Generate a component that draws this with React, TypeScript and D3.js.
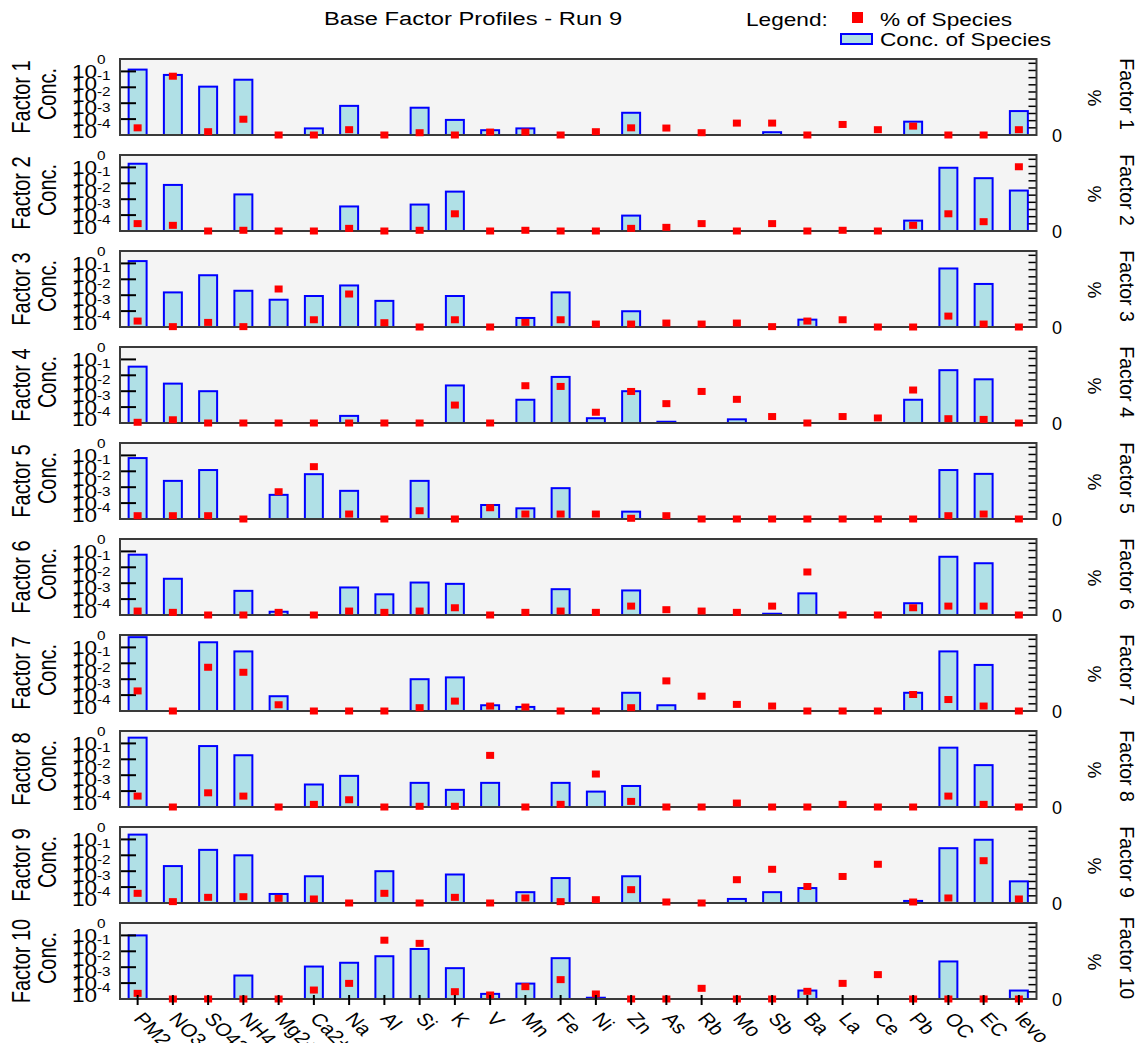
import React from 'react';
import * as d3 from 'd3';

const categories = ['PM2.5', 'NO3-', 'SO42-', 'NH4+', 'Mg2+', 'Ca2+', 'Na', 'Al', 'Si', 'K', 'V', 'Mn', 'Fe', 'Ni', 'Zn', 'As', 'Rb', 'Mo', 'Sb', 'Ba', 'La', 'Ce', 'Pb', 'OC', 'EC', 'levo'];
const factorNames = ['Factor 1', 'Factor 2', 'Factor 3', 'Factor 4', 'Factor 5', 'Factor 6', 'Factor 7', 'Factor 8', 'Factor 9', 'Factor 10'];

// Concentration of species (log axis, 0 = no bar)
const conc1 = [1.3e-1, 6.0e-2, 1.1e-2, 3.0e-2, 0, 2.6e-5, 6.8e-4, 0, 5.2e-4, 8.9e-5, 2.0e-5, 2.6e-5, 0, 0, 2.5e-4, 0, 0, 0, 1.5e-5, 0, 0, 0, 6.9e-5, 0, 0, 3.2e-4];
const conc2 = [1.7e-1, 7.9e-3, 0, 2.0e-3, 0, 0, 3.5e-4, 0, 4.6e-4, 3.0e-3, 0, 0, 0, 0, 9.3e-5, 0, 0, 0, 0, 0, 0, 0, 4.5e-5, 9.5e-2, 2.1e-2, 3.5e-3];
const conc3 = [1.4e-1, 1.5e-3, 1.8e-2, 1.9e-3, 5.2e-4, 8.9e-4, 4.1e-3, 4.4e-4, 0, 8.9e-4, 0, 3.7e-5, 1.5e-3, 0, 9.8e-5, 0, 0, 0, 0, 2.9e-5, 0, 0, 0, 4.8e-2, 5.1e-3, 0];
const conc4 = [3.5e-2, 3.0e-3, 1.0e-3, 0, 0, 0, 2.8e-5, 0, 0, 2.3e-3, 0, 2.9e-4, 7.9e-3, 2.0e-5, 1.0e-3, 1.2e-5, 0, 1.7e-5, 0, 0, 0, 0, 2.9e-4, 2.1e-2, 5.6e-3, 0];
const conc5 = [6.8e-2, 2.5e-3, 1.2e-2, 0, 3.3e-4, 6.6e-3, 5.9e-4, 0, 2.5e-3, 0, 7.6e-5, 4.7e-5, 8.7e-4, 0, 2.9e-5, 0, 0, 0, 0, 0, 0, 0, 0, 1.2e-2, 6.9e-3, 0];
const conc6 = [6.2e-2, 1.9e-3, 0, 3.3e-4, 1.6e-5, 0, 5.4e-4, 2.0e-4, 1.1e-3, 9.1e-4, 0, 0, 4.2e-4, 0, 3.5e-4, 0, 0, 0, 1.2e-5, 2.3e-4, 0, 0, 5.5e-5, 4.6e-2, 1.8e-2, 0];
const conc7 = [4.4e-1, 0, 2.1e-1, 5.6e-2, 8.5e-5, 0, 0, 0, 1.0e-3, 1.3e-3, 2.3e-5, 1.8e-5, 0, 0, 1.4e-4, 2.3e-5, 0, 0, 0, 0, 0, 0, 1.4e-4, 5.6e-2, 7.9e-3, 0];
const conc8 = [2.3e-1, 0, 6.8e-2, 1.8e-2, 0, 2.6e-4, 9.1e-4, 0, 3.3e-4, 1.2e-4, 3.3e-4, 0, 3.3e-4, 9.3e-5, 2.1e-4, 0, 0, 0, 0, 0, 0, 0, 0, 5.4e-2, 4.3e-3, 0];
const conc9 = [2.0e-1, 2.1e-3, 2.2e-2, 1.0e-2, 3.7e-5, 4.8e-4, 0, 1.0e-3, 0, 6.2e-4, 0, 4.8e-5, 3.7e-4, 0, 4.8e-4, 0, 0, 1.8e-5, 4.8e-5, 8.7e-5, 0, 0, 1.35e-5, 2.8e-2, 9.5e-2, 2.3e-4];
const conc10 = [1.0e-1, 0, 0, 3.0e-4, 0, 1.1e-3, 1.9e-3, 4.9e-3, 1.4e-2, 8.7e-4, 2.1e-5, 9.3e-5, 3.7e-3, 1.2e-5, 0, 0, 0, 0, 0, 3.4e-5, 0, 0, 0, 2.3e-3, 0, 3.4e-5];

// % of species
const pct1 = [10, 82, 4.6, 22, 0, 0, 7.4, 0, 3.2, 0, 4.1, 4.1, 0, 4.6, 10, 9.7, 3.2, 16.6, 16.6, 0, 14.7, 7.4, 12.4, 0, 0, 7.4];
const pct2 = [10.3, 7.9, 0, 1, 0, 0, 3.7, 0, 1, 24, 0, 1, 0, 0, 3.7, 5.1, 10.3, 0, 10.3, 0, 1, 0, 7.9, 24, 13, 89.6];
const pct3 = [8.3, 0.5, 6.4, 0.5, 53, 10.1, 46, 6, 0, 10.1, 0, 6.4, 10.1, 4.1, 4.1, 5.5, 4.1, 5.5, 0.5, 8.3, 10.1, 0, 0, 15.2, 4.1, 0];
const pct4 = [1, 4.5, 0, 0, 0, 0, 0, 0, 0, 25, 0, 52, 51, 15, 44, 27, 44, 33, 9, 0, 9, 7, 46, 6, 5, 0];
const pct5 = [4.6, 4.6, 4.6, 0, 38, 73, 6.9, 0, 11.5, 0, 15.7, 6.9, 6.9, 6.9, 1, 4.6, 0, 0, 0, 0, 0, 0, 0, 4.6, 6.9, 0];
const pct6 = [5.5, 3.7, 0, 0, 3.7, 0, 5.5, 3.7, 5.5, 10.1, 0, 3.7, 5.5, 3.7, 12.4, 7.4, 5.5, 3.7, 12.4, 60, 0, 0, 10.1, 12.4, 12.4, 0];
const pct7 = [28, 0, 61, 54, 8.7, 0, 0, 0, 4.6, 13.8, 6.9, 5.5, 0, 0, 4.6, 42, 20.7, 9.2, 6.9, 0, 0, 0, 23, 16, 6.9, 0];
const pct8 = [15.2, 0, 19.8, 15.2, 0, 3.7, 10.1, 0, 1, 1, 72, 0, 3.7, 46, 7.8, 0, 0, 5.5, 0, 0, 3.7, 0, 0, 15.2, 3.7, 0];
const pct9 = [13.5, 1.9, 7.9, 8.8, 6.5, 5.6, 0, 13.5, 0, 7.9, 0, 7, 1.9, 4.6, 18.6, 1.4, 0, 32.5, 47, 23, 37, 54, 1.4, 7, 59, 5.6];
const pct10 = [7.9, 0, 0, 0, 0, 12.5, 21.8, 82, 77.6, 10.2, 5.6, 17.2, 27, 7, 0, 0, 14.9, 0, 0, 10.7, 21.8, 34, 0, 0, 0, 0];

const concProfiles = [conc1, conc2, conc3, conc4, conc5, conc6, conc7, conc8, conc9, conc10];
const pctProfiles = [pct1, pct2, pct3, pct4, pct5, pct6, pct7, pct8, pct9, pct10];

const logTickExponents = [0, -1, -2, -3, -4, -5];
const pctTicks = [0, 10, 20, 30, 40, 50, 60, 70, 80, 90, 100];

const TITLE = 'Base Factor Profiles - Run 9';
const FONT = '"Liberation Sans", Arial, Helvetica, sans-serif';
const SX = 1.28;

const W = 1144;
const H = 1043;
const PLOT_L = 120;
const PLOT_R = 1036.5;
const TOP0 = 59;
const STEP = 96;
const PH = 76;

function SText(props: any) {
  const { x, y, sx = SX, rot = 0, anchor = 'start', size = 17.7, children, fill = '#000' } = props;
  return (
    <text
      transform={`translate(${x},${y}) scale(${sx},1) rotate(${rot})`}
      textAnchor={anchor}
      fontSize={size}
      fontFamily={FONT}
      fill={fill}
    >
      {children}
    </text>
  );
}

export default function App() {
  const x = d3.scaleBand<string>().domain(categories).range([PLOT_L, PLOT_R]).padding(0);
  const bw = x.bandwidth() * 0.51;
  const cx = (c: string) => (x(c) as number) + x.bandwidth() / 2;

  return (
    <svg width={W} height={H} style={{ position: 'absolute', left: 0, top: 0, background: '#fff' }}>
      <rect x={0} y={0} width={W} height={H} fill="#fff" />
      <SText x={473} y={25} anchor="middle" sx={1.32} size={18}>{TITLE}</SText>

      {/* legend */}
      <SText x={746} y={26} size={17.7}>Legend:</SText>
      <rect x={852} y={12} width={11} height={11} fill="#ff0000" />
      <SText x={880} y={26} size={17.7}>% of Species</SText>
      <rect x={841} y={34} width={31} height={10} fill="#b0e0e6" stroke="#0000ff" strokeWidth={2} />
      <SText x={880} y={46} size={17.7}>Conc. of Species</SText>

      {factorNames.map((name, fi) => {
        const top = TOP0 + fi * STEP;
        const bottom = top + PH;
        const cy = top + PH / 2;
        const y = d3.scaleLog().domain([1e-5, Math.pow(10, -0.22)]).range([bottom, top]);
        const yp = d3.scaleLinear().domain([0, 106]).range([bottom, top]);
        const conc = concProfiles[fi];
        const pct = pctProfiles[fi];
        const isLast = fi === factorNames.length - 1;
        return (
          <g key={name}>
            <rect x={PLOT_L} y={top} width={PLOT_R - PLOT_L} height={PH} fill="#f4f4f4" />
            {categories.map((c, i) => {
              const v = conc[i];
              if (!v || v <= 1e-5) return null;
              const yy = y(v);
              return (
                <rect key={'b' + c} x={cx(c) - bw / 2} y={yy} width={bw} height={bottom - yy}
                  fill="#b0e0e6" stroke="#0000ff" strokeWidth={2} />
              );
            })}
            {/* left log ticks */}
            {logTickExponents.slice(1, 5).map((e) => (
              <line key={'lt' + e} x1={PLOT_L} x2={PLOT_L + 16} y1={y(Math.pow(10, e))} y2={y(Math.pow(10, e))}
                stroke="#000" strokeWidth={2} />
            ))}
            {/* right % ticks */}
            {pctTicks.slice(1).map((p) => (
              <line key={'rt' + p} x1={PLOT_R - 8} x2={PLOT_R} y1={yp(p)} y2={yp(p)} stroke="#000" strokeWidth={1.5} />
            ))}
            <rect x={PLOT_L} y={top} width={PLOT_R - PLOT_L} height={PH} fill="none" stroke="#3a3a3a" strokeWidth={2} />
            {categories.map((c, i) => (
              <rect key={'p' + c} x={cx(c) - 4} y={yp(pct[i]) - 3.5} width={8} height={7} fill="#ff0000" />
            ))}
            {isLast && categories.map((c) => (
              <line key={'xt' + c} x1={cx(c)} x2={cx(c)} y1={bottom - 4} y2={bottom + 6} stroke="#000" strokeWidth={2} />
            ))}

            {/* left tick labels */}
            {logTickExponents.map((e, k) => {
              const base = bottom - 57.5 + k * 12.1;
              return (
                <g key={'ll' + e}>
                  <SText x={72} y={base} size={17.7}>10</SText>
                  {e !== -5 && (
                    <SText x={97} y={y(Math.pow(10, e)) + 8.6} size={12}>{String(e)}</SText>
                  )}
                </g>
              );
            })}
            <SText x={30} y={cy} rot={-90} anchor="middle" size={20}>{name}</SText>
            <SText x={56} y={cy - 3} rot={-90} anchor="middle" size={20}>Conc.</SText>

            {/* right labels */}
            <SText x={1057} y={bottom + 7} sx={1} anchor="middle" size={18}>{String(pctTicks[0])}</SText>
            <SText x={1088} y={cy + 1} sx={1} rot={90} anchor="middle" size={19}>%</SText>
            <SText x={1120} y={cy - 3} sx={1} rot={90} anchor="middle" size={19.5}>{name}</SText>
          </g>
        );
      })}

      {/* x category labels */}
      {categories.map((c) => (
        <SText key={'xl' + c} x={cx(c) - 5} y={1019} sx={1.2} rot={50} size={18}>{c}</SText>
      ))}
    </svg>
  );
}
